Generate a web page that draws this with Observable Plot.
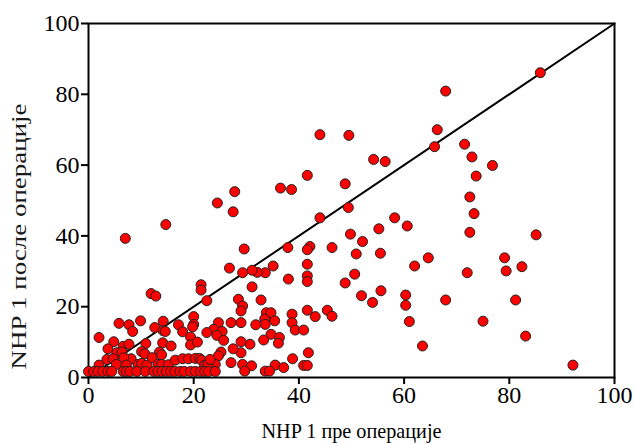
<!DOCTYPE html>
<html><head><meta charset="utf-8">
<script src="https://cdn.jsdelivr.net/npm/d3@7"></script>
<script src="https://cdn.jsdelivr.net/npm/@observablehq/plot@0.6"></script>
<style>body{margin:0;background:#fff} #chart{width:634px;height:443px}</style>
</head><body><div id="chart"></div>
<script>
const xTitle = "NHP 1 пре операције";
const yTitle = "NHP 1 после операције";
const axisTicks = [0, 20, 40, 60, 80, 100];
const identityLine = [0, 100];

const nhpBefore = [
  85.9, 67.9, 66.3, 44.0, 49.5, 71.5, 65.8, 72.9, 54.2, 56.4,
  76.8, 73.7, 41.6, 48.8, 27.8, 36.5, 38.6, 72.5, 24.5, 49.4,
  27.5, 73.3, 44.0, 58.2, 14.7, 60.6, 55.2, 72.5, 85.1, 49.8,
  7.0, 52.1, 37.9, 42.1, 41.6, 46.3, 29.6, 50.9, 55.5, 64.6,
  79.1, 62.0, 35.1, 82.4, 79.4, 72.0, 33.6, 32.1, 31.1, 29.3,
  26.8, 41.6, 41.6, 41.6, 38.0, 50.6, 48.8, 31.1, 21.4, 21.4,
  55.6, 11.9, 12.8, 22.5, 51.9, 54.0, 60.3, 60.3, 67.9, 81.2,
  28.5, 29.3, 29.0, 32.8, 33.8, 34.7, 33.5, 33.6, 35.4, 38.7,
  38.7, 39.3, 40.9, 41.6, 43.1, 45.4, 46.3, 61.0, 75.0, 83.1,
  63.5, 92.1, 31.8, 27.1, 29.0, 24.7, 23.8, 25.4, 22.5, 24.4,
  25.7, 34.7, 36.3, 36.1, 33.3, 30.7, 29.0, 29.0, 27.5, 25.2,
  24.7, 24.1, 41.8, 38.8, 35.5, 37.1, 27.1, 29.3, 31.0, 40.9,
  41.6, 20.0, 20.0, 5.8, 7.7, 8.4, 9.9, 12.6, 14.2, 14.2,
  14.6, 17.1, 17.9, 19.8, 14.1, 19.4, 19.4, 20.7, 2.0, 4.8,
  3.7, 6.6, 7.7, 5.4, 6.4, 15.7, 10.9, 10.1, 10.7, 13.5,
  13.9, 3.5, 4.7, 8.1, 6.7, 2.0, 5.3, 7.2, 9.4, 10.1,
  11.1, 12.1, 13.2, 13.9, 15.2, 16.5, 17.9, 19.0, 20.3, 21.1,
  21.5, 22.1, 22.7, 23.1,
  0.0, 1.0, 1.8, 2.7, 3.7, 4.4, 6.6, 7.2, 7.9, 9.2,
  10.8, 12.4, 13.2, 14.0, 14.8, 15.6, 16.4, 17.4, 18.2, 19.4,
  20.3, 21.3, 22.1, 22.8, 24.1, 29.7, 33.6, 34.4
];
const nhpAfter = [
  86.1, 80.9, 70.0, 68.6, 68.4, 65.9, 65.2, 62.3, 61.6, 61.0,
  59.9, 56.9, 57.1, 54.7, 52.5, 53.5, 53.1, 51.0, 49.3, 48.0,
  46.8, 46.3, 45.1, 45.1, 43.2, 42.8, 42.0, 41.0, 40.3, 40.5,
  39.3, 38.4, 36.7, 37.0, 36.1, 36.7, 36.3, 34.9, 35.1, 33.8,
  33.8, 31.5, 31.5, 31.3, 30.1, 29.6, 29.6, 29.7, 30.3, 29.6,
  30.9, 32.0, 28.7, 27.1, 27.8, 29.2, 26.7, 25.6, 26.2, 24.7,
  24.5, 23.7, 23.0, 21.7, 23.1, 21.2, 23.3, 20.4, 21.9, 21.9,
  22.1, 20.2, 18.8, 21.9, 18.3, 18.3, 16.5, 15.0, 16.0, 17.9,
  15.5, 13.4, 13.4, 19.0, 17.2, 19.0, 17.3, 15.8, 15.9, 11.7,
  8.9, 3.5, 14.9, 15.5, 15.5, 15.5, 13.6, 13.0, 12.7, 11.9,
  10.5, 12.2, 11.3, 9.7, 10.6, 9.4, 10.1, 7.0, 8.1, 7.2,
  6.1, 3.7, 7.0, 5.3, 3.5, 2.8, 4.2, 3.7, 3.3, 3.4,
  3.4, 17.2, 15.0, 15.3, 14.9, 13.0, 16.0, 14.1, 15.9, 13.2,
  13.0, 14.9, 12.9, 14.3, 9.8, 11.4, 9.2, 10.0, 11.3, 10.1,
  8.1, 8.8, 9.4, 7.0, 7.2, 8.9, 9.6, 7.3, 6.7, 7.2,
  6.4, 5.1, 5.3, 5.3, 5.6, 3.5, 3.7, 3.5, 3.7, 4.0,
  3.5, 5.6, 3.7, 3.7, 3.6, 4.9, 5.3, 5.3, 5.4, 5.4,
  4.9, 3.5, 3.9, 5.1,
  1.7, 1.7, 1.7, 1.7, 1.7, 1.7, 1.7, 1.7, 1.7, 1.7,
  1.7, 1.7, 1.7, 1.7, 1.7, 1.7, 1.7, 1.7, 1.7, 1.7,
  1.7, 1.7, 1.7, 1.7, 1.7, 1.8, 1.8, 1.8
];

const patients = nhpBefore.map((b, i) => ({before: b, after: nhpAfter[i]}));

const chart = Plot.plot({
  width: 634,
  height: 443,
  marginLeft: 88,
  marginRight: 20,
  marginTop: 23,
  marginBottom: 66,
  style: {fontFamily: "'Liberation Serif', 'Times New Roman', serif", fontSize: "24px", background: "#fff", color: "#000"},
  x: {domain: [0, 100]},
  y: {domain: [0, 100]},
  marks: [
    Plot.axisX({ticks: axisTicks, tickSize: 7, tickPadding: 1, label: null, strokeWidth: 2, fontSize: 24}),
    Plot.axisY({ticks: axisTicks, tickSize: 7, tickPadding: 2, label: null, strokeWidth: 2, fontSize: 24}),
    Plot.line(identityLine, {x: d => d, y: d => d, stroke: "#000", strokeWidth: 2}),
    Plot.frame({stroke: "#000", strokeWidth: 2}),
    Plot.dot(patients, {x: "before", y: "after", r: 5, fill: "#ff0000", stroke: "#222", strokeWidth: 1}),
    Plot.text([xTitle], {text: d => d, frameAnchor: "bottom", dy: 54, fontSize: 21, textAnchor: "middle", lineAnchor: "middle", fontWeight: "normal"}),
    Plot.text([yTitle], {text: d => d, frameAnchor: "left", rotate: -90, dx: -69, dy: 36, fontSize: 21, textAnchor: "middle", lineAnchor: "middle", fontWeight: "normal", fill: "#1a1a1a"})
  ]
});

chart.querySelectorAll("text").forEach(t => {
  if (t.textContent === xTitle) { t.setAttribute("textLength", 180); t.setAttribute("lengthAdjust", "spacingAndGlyphs"); }
  if (t.textContent === yTitle) { t.setAttribute("textLength", 266); t.setAttribute("lengthAdjust", "spacingAndGlyphs"); }
});

document.getElementById("chart").appendChild(chart);
</script>
</body></html>
